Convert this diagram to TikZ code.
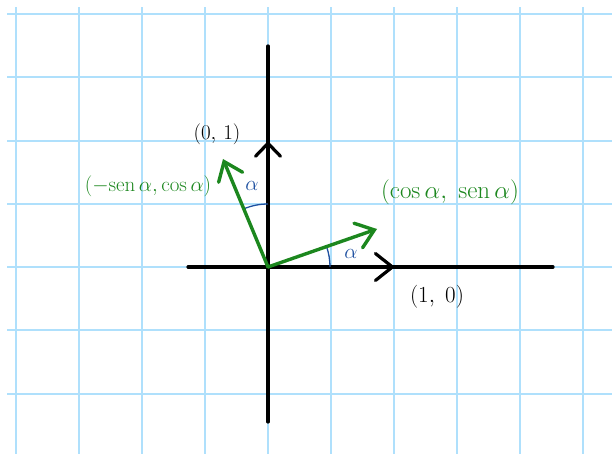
\RequirePackage{fix-cm}
\documentclass[tikz,border=0pt]{standalone}
\usetikzlibrary{arrows.meta}
\definecolor{gridblue}{RGB}{175,224,252}
\definecolor{vecgreen}{RGB}{28,135,30}
\definecolor{angblue}{RGB}{30,80,160}
\begin{document}
\begin{tikzpicture}[x=1pt,y=1pt,
  gridline/.style={draw=gridblue,line width=2pt},
  axis/.style={draw=black,line width=3.2pt,line cap=round},
  axisarrow/.style={axis,-{Straight Barb[length=17pt,width=27pt,line cap=round]}},
  vec/.style={draw=vecgreen,line width=3.4pt,line cap=round,-{Straight Barb[length=17pt,width=26pt,line cap=round]}},
  angarc/.style={draw=angblue,line width=1.3pt},
  blacklabel/.style={text=black,font=\fontsize{21}{24}\selectfont,inner sep=0pt},
  greenlabel/.style={text=vecgreen,font=\fontsize{21}{24}\selectfont,inner sep=0pt},
  anglabel/.style={text=angblue,font=\fontsize{21}{24}\selectfont,inner sep=0pt}]
\useasboundingbox (0,0) rectangle (612,454);
% grid
\foreach \x in {16,79,142,205,268,331,394,457,520,583} {
  \draw[gridline] (\x,0) -- (\x,447);
}
\foreach \y in {440,377,313,250,187,124,60} {
  \draw[gridline] (7,\y) -- (612,\y);
}
% coordinates
\coordinate (O) at (268,187);
\coordinate (xl) at (188,187);
\coordinate (xr) at (553,187);
\coordinate (yb) at (268,32);
\coordinate (yt) at (268,408);
\coordinate (e1) at (395,187);
\coordinate (e2) at (268,313);
\coordinate (v1) at (377,225);
\coordinate (v2) at (223,295);
% axes
\draw[axis] (xl) -- (xr);
\draw[axis] (yb) -- (yt);
\draw[axisarrow] (O) -- (e1);
\draw[axis,-{Straight Barb[length=13pt,width=25pt,line cap=round]}] (O) -- (e2);
% angle arcs
\draw[angarc] ([shift={(0:62)}]O) arc[start angle=0,end angle=19.1,radius=62];
\draw[angarc] ([shift={(90:63)}]O) arc[start angle=90,end angle=112.5,radius=63];
% vectors
\draw[vec] (O) -- (v1);
\draw[vec] (O) -- (v2);
% labels
\node[blacklabel] (l01) at (217,320) {$(0,\,1)$};
\node[blacklabel,font=\fontsize{23}{26}\selectfont] (l10) at (437,157) {$(1,\;0)$};
\node[greenlabel] (lv2) at (148,268) {$(-\mathrm{sen}\,\alpha,\cos\alpha)$};
\node[greenlabel,font=\fontsize{25}{28}\selectfont] (lv1) at (450,262) {$(\cos\alpha,\;\mathrm{sen}\,\alpha)$};
\node[anglabel] (a1) at (351,200) {$\alpha$};
\node[anglabel] (a2) at (252,268) {$\alpha$};
\end{tikzpicture}
\end{document}
